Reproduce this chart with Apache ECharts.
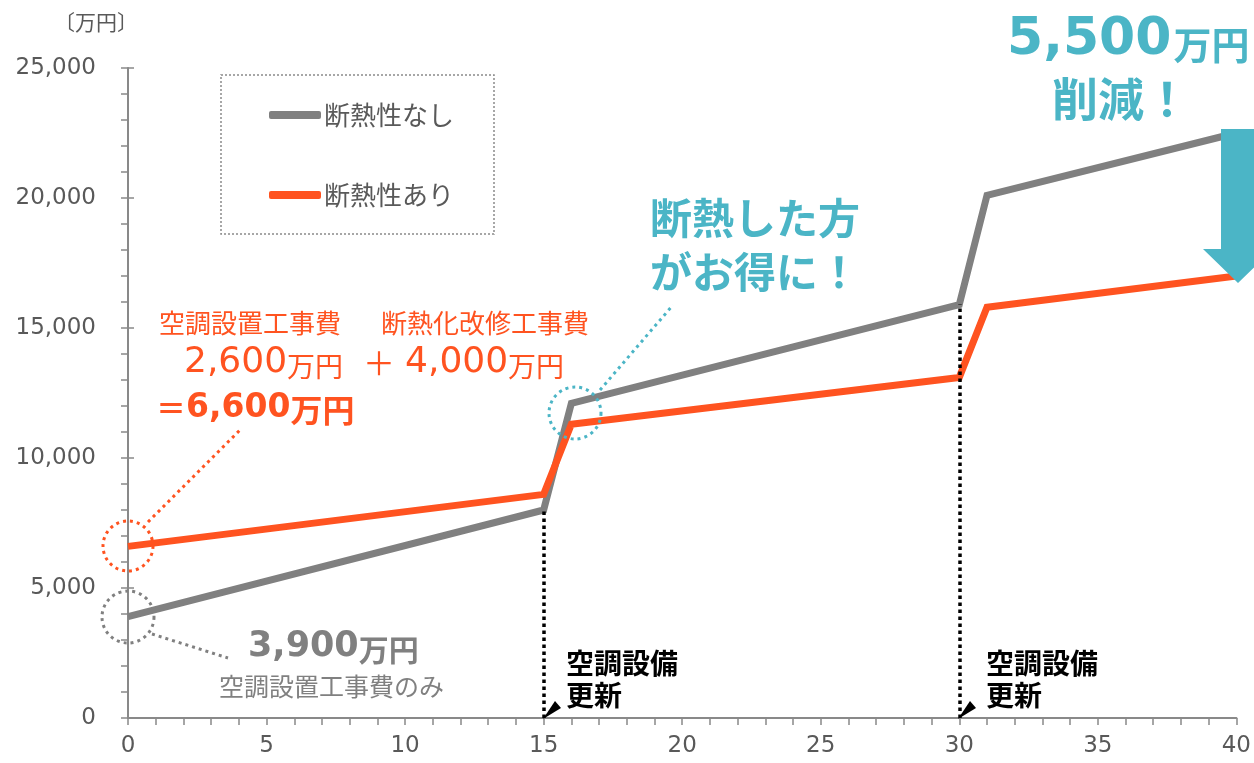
<!DOCTYPE html>
<html><head><meta charset="utf-8">
<script src="https://cdn.jsdelivr.net/npm/echarts@6/dist/echarts.min.js"></script>
<style>html,body{margin:0;padding:0;background:#fff}#c{width:1254px;height:763px}</style>
</head><body><div id="c"></div>
<script>
const years = [0, 15, 16, 30, 31, 40];
const noInsulation = [3900, 8000, 12100, 15900, 20100, 22500];
const withInsulation = [6600, 8600, 11300, 13100, 15800, 17000];
const seriesNames = ['断熱性なし', '断熱性あり'];
const renewalYears = [15, 30];
const xTicks = [0, 5, 10, 15, 20, 25, 30, 35, 40];
const yTicks = [0, 5000, 10000, 15000, 20000, 25000];

const GRAY = '#808080', ORANGE = '#FF5320', TEAL = '#4BB5C6', TXT = '#595959';
const NUM = "'DejaVu Sans','Noto Sans CJK JP',sans-serif";
const JP = "'Noto Sans CJK JP',sans-serif";

const chart = echarts.init(document.getElementById('c'), null, {renderer: 'canvas'});
const pair = (xs, ys) => xs.map((x, i) => [x, ys[i]]);
const fmt = v => v.toLocaleString('en-US');

const renewalLines = renewalYears.map(y => {
  const i = years.indexOf(y);
  return [{coord: [y, 0]}, {coord: [y, noInsulation[i]]}];
});

const option = {
  animation: false,
  grid: {left: 128, right: 16, top: 68, bottom: 45, containLabel: false},
  legend: {
    left: 221, top: 75, orient: 'vertical',
    padding: [27, 40, 26, 48], itemGap: 54,
    itemWidth: 52, itemHeight: 8, icon: 'roundRect',
    borderColor: '#8a8a8a', borderWidth: 1.5, borderType: [2, 2],
    textStyle: {fontFamily: JP, fontSize: 26, color: TXT, padding: [0, 0, 0, -2]},
    data: seriesNames
  },
  xAxis: {
    type: 'value', min: xTicks[0], max: xTicks[xTicks.length - 1], interval: 1,
    axisLine: {lineStyle: {color: '#898989', width: 2}},
    axisTick: {show: true, length: 7, lineStyle: {color: '#898989', width: 1.5}},
    splitLine: {show: false},
    axisLabel: {color: TXT, fontFamily: NUM, fontSize: 23, margin: 17,
      formatter: v => xTicks.includes(v) ? String(v) : ''}
  },
  yAxis: [{
    type: 'value', min: yTicks[0], max: yTicks[yTicks.length - 1], interval: 5000,
    axisLine: {show: true, lineStyle: {color: '#898989', width: 2}},
    axisTick: {show: true, length: 7, lineStyle: {color: '#898989', width: 1.5}},
    minorTick: {show: true, splitNumber: 5, length: 7, lineStyle: {color: '#898989', width: 1.5}},
    splitLine: {show: false},
    axisLabel: {color: TXT, fontFamily: NUM, fontSize: 23, margin: 32, formatter: v => fmt(v)}
  }, {
    type: 'value', min: yTicks[0], max: yTicks[yTicks.length - 1], interval: 5000, position: 'left',
    axisLine: {show: false},
    axisTick: {show: true, inside: true, length: 6, lineStyle: {color: '#898989', width: 1.5}},
    splitLine: {show: false}, axisLabel: {show: false}
  }],
  series: [{
    name: seriesNames[0], type: 'line', data: pair(years, noInsulation),
    symbol: 'none', lineStyle: {color: GRAY, width: 7, join: 'miter'}, itemStyle: {color: GRAY},
    z: 3,
    markLine: {
      silent: true, symbol: 'none', label: {show: false},
      lineStyle: {color: '#000', width: 3.5, type: 'dotted'},
      emphasis: {disabled: true},
      data: renewalLines
    }
  }, {
    name: seriesNames[1], type: 'line', data: pair(years, withInsulation),
    symbol: 'none', lineStyle: {color: ORANGE, width: 7, join: 'miter'}, itemStyle: {color: ORANGE},
    z: 4
  }],
  graphic: [
    {type: 'text', x: 54, y: 22, style: {text: '〔万円〕', font: `21px ${JP}`, fill: TXT, verticalAlign: 'middle'}},
    // dotted circles
    {type: 'circle', shape: {cx: 128, cy: 546, r: 25}, style: {fill: 'none', stroke: ORANGE, lineWidth: 3, lineDash: [3, 4]}, z: 10},
    {type: 'circle', shape: {cx: 128, cy: 617, r: 26}, style: {fill: 'none', stroke: GRAY, lineWidth: 3, lineDash: [3, 4]}, z: 10},
    {type: 'circle', shape: {cx: 575, cy: 413, r: 26}, style: {fill: 'none', stroke: TEAL, lineWidth: 3, lineDash: [3, 4]}, z: 10},
    // leader lines
    {type: 'line', shape: {x1: 148, y1: 522, x2: 240, y2: 430}, style: {stroke: ORANGE, lineWidth: 3, lineDash: [3, 4]}, z: 10},
    {type: 'line', shape: {x1: 152, y1: 634, x2: 228, y2: 658}, style: {stroke: GRAY, lineWidth: 3, lineDash: [3, 4]}, z: 10},
    {type: 'line', shape: {x1: 600, y1: 390, x2: 673, y2: 305}, style: {stroke: TEAL, lineWidth: 3, lineDash: [3, 4]}, z: 10},
    // pointer triangles
    {type: 'polygon', shape: {points: [[543, 719], [555, 701], [561, 708]]}, style: {fill: '#000'}, z: 10},
    {type: 'polygon', shape: {points: [[958, 719], [970, 701], [976, 708]]}, style: {fill: '#000'}, z: 10},
    // big arrow
    {type: 'polygon', shape: {points: [[1221, 129], [1256, 129], [1256, 249], [1273, 249], [1238, 283], [1203, 249], [1221, 249]]}, style: {fill: TEAL}, z: 12},
    // texts
    {type: 'text', x: 1007, y: 40, z: 20, style: {
      text: '{a|5,500}{b|万円}', verticalAlign: 'middle',
      rich: {a: {font: `bold 52px ${NUM}`, fill: TEAL}, b: {font: `bold 38px ${JP}`, fill: TEAL, padding: [10, 0, 0, 2]}}}},
    {type: 'text', x: 1121, y: 99, z: 20, style: {text: '削減！', font: `bold 46px ${JP}`, fill: TEAL, align: 'center', verticalAlign: 'middle'}},
    {type: 'text', x: 650, y: 218, z: 20, style: {text: '断熱した方', font: `bold 42px ${JP}`, fill: TEAL, verticalAlign: 'middle'}},
    {type: 'text', x: 650, y: 272, z: 20, style: {text: 'がお得に！', font: `bold 42px ${JP}`, fill: TEAL, verticalAlign: 'middle'}},
    {type: 'text', x: 159, y: 323, z: 20, style: {
      text: '{j|空調設置工事費}{k|断熱化改修工事費}', verticalAlign: 'middle',
      rich: {j: {font: `26px ${JP}`, fill: ORANGE}, k: {font: `26px ${JP}`, fill: ORANGE, padding: [0, 0, 0, 40]}}}},
    {type: 'text', x: 184, y: 363, z: 20, style: {
      text: '{n|2,600}{u|万円}{p|＋}{n|4,000}{u|万円}', verticalAlign: 'middle',
      rich: {n: {font: `36px ${NUM}`, fill: ORANGE}, u: {font: `28px ${JP}`, fill: ORANGE, padding: [6, 0, 0, 0]},
             p: {font: `32px ${JP}`, fill: ORANGE, padding: [0, 10, 0, 20]}}}},
    {type: 'text', x: 156, y: 408, z: 20, style: {
      text: '{e|＝}{n|6,600}{u|万円}', verticalAlign: 'middle',
      rich: {e: {font: `bold 30px ${JP}`, fill: ORANGE}, n: {font: `bold 33px ${NUM}`, fill: ORANGE}, u: {font: `bold 32px ${JP}`, fill: ORANGE, padding: [4, 0, 0, 0]}}}},
    {type: 'text', x: 248, y: 647, z: 20, style: {
      text: '{n|3,900}{u|万円}', verticalAlign: 'middle',
      rich: {n: {font: `bold 35px ${NUM}`, fill: GRAY}, u: {font: `bold 30px ${JP}`, fill: GRAY, padding: [5, 0, 0, 0]}}}},
    {type: 'text', x: 219, y: 686, z: 20, style: {text: '空調設置工事費のみ', font: `25px ${JP}`, fill: GRAY, verticalAlign: 'middle'}},
    {type: 'text', x: 566, y: 663, z: 20, style: {text: '空調設備', font: `bold 28px ${JP}`, fill: '#000', verticalAlign: 'middle'}},
    {type: 'text', x: 566, y: 695, z: 20, style: {text: '更新', font: `bold 28px ${JP}`, fill: '#000', verticalAlign: 'middle'}},
    {type: 'text', x: 986, y: 663, z: 20, style: {text: '空調設備', font: `bold 28px ${JP}`, fill: '#000', verticalAlign: 'middle'}},
    {type: 'text', x: 986, y: 695, z: 20, style: {text: '更新', font: `bold 28px ${JP}`, fill: '#000', verticalAlign: 'middle'}}
  ]
};
chart.setOption(option);
</script>
</body></html>
